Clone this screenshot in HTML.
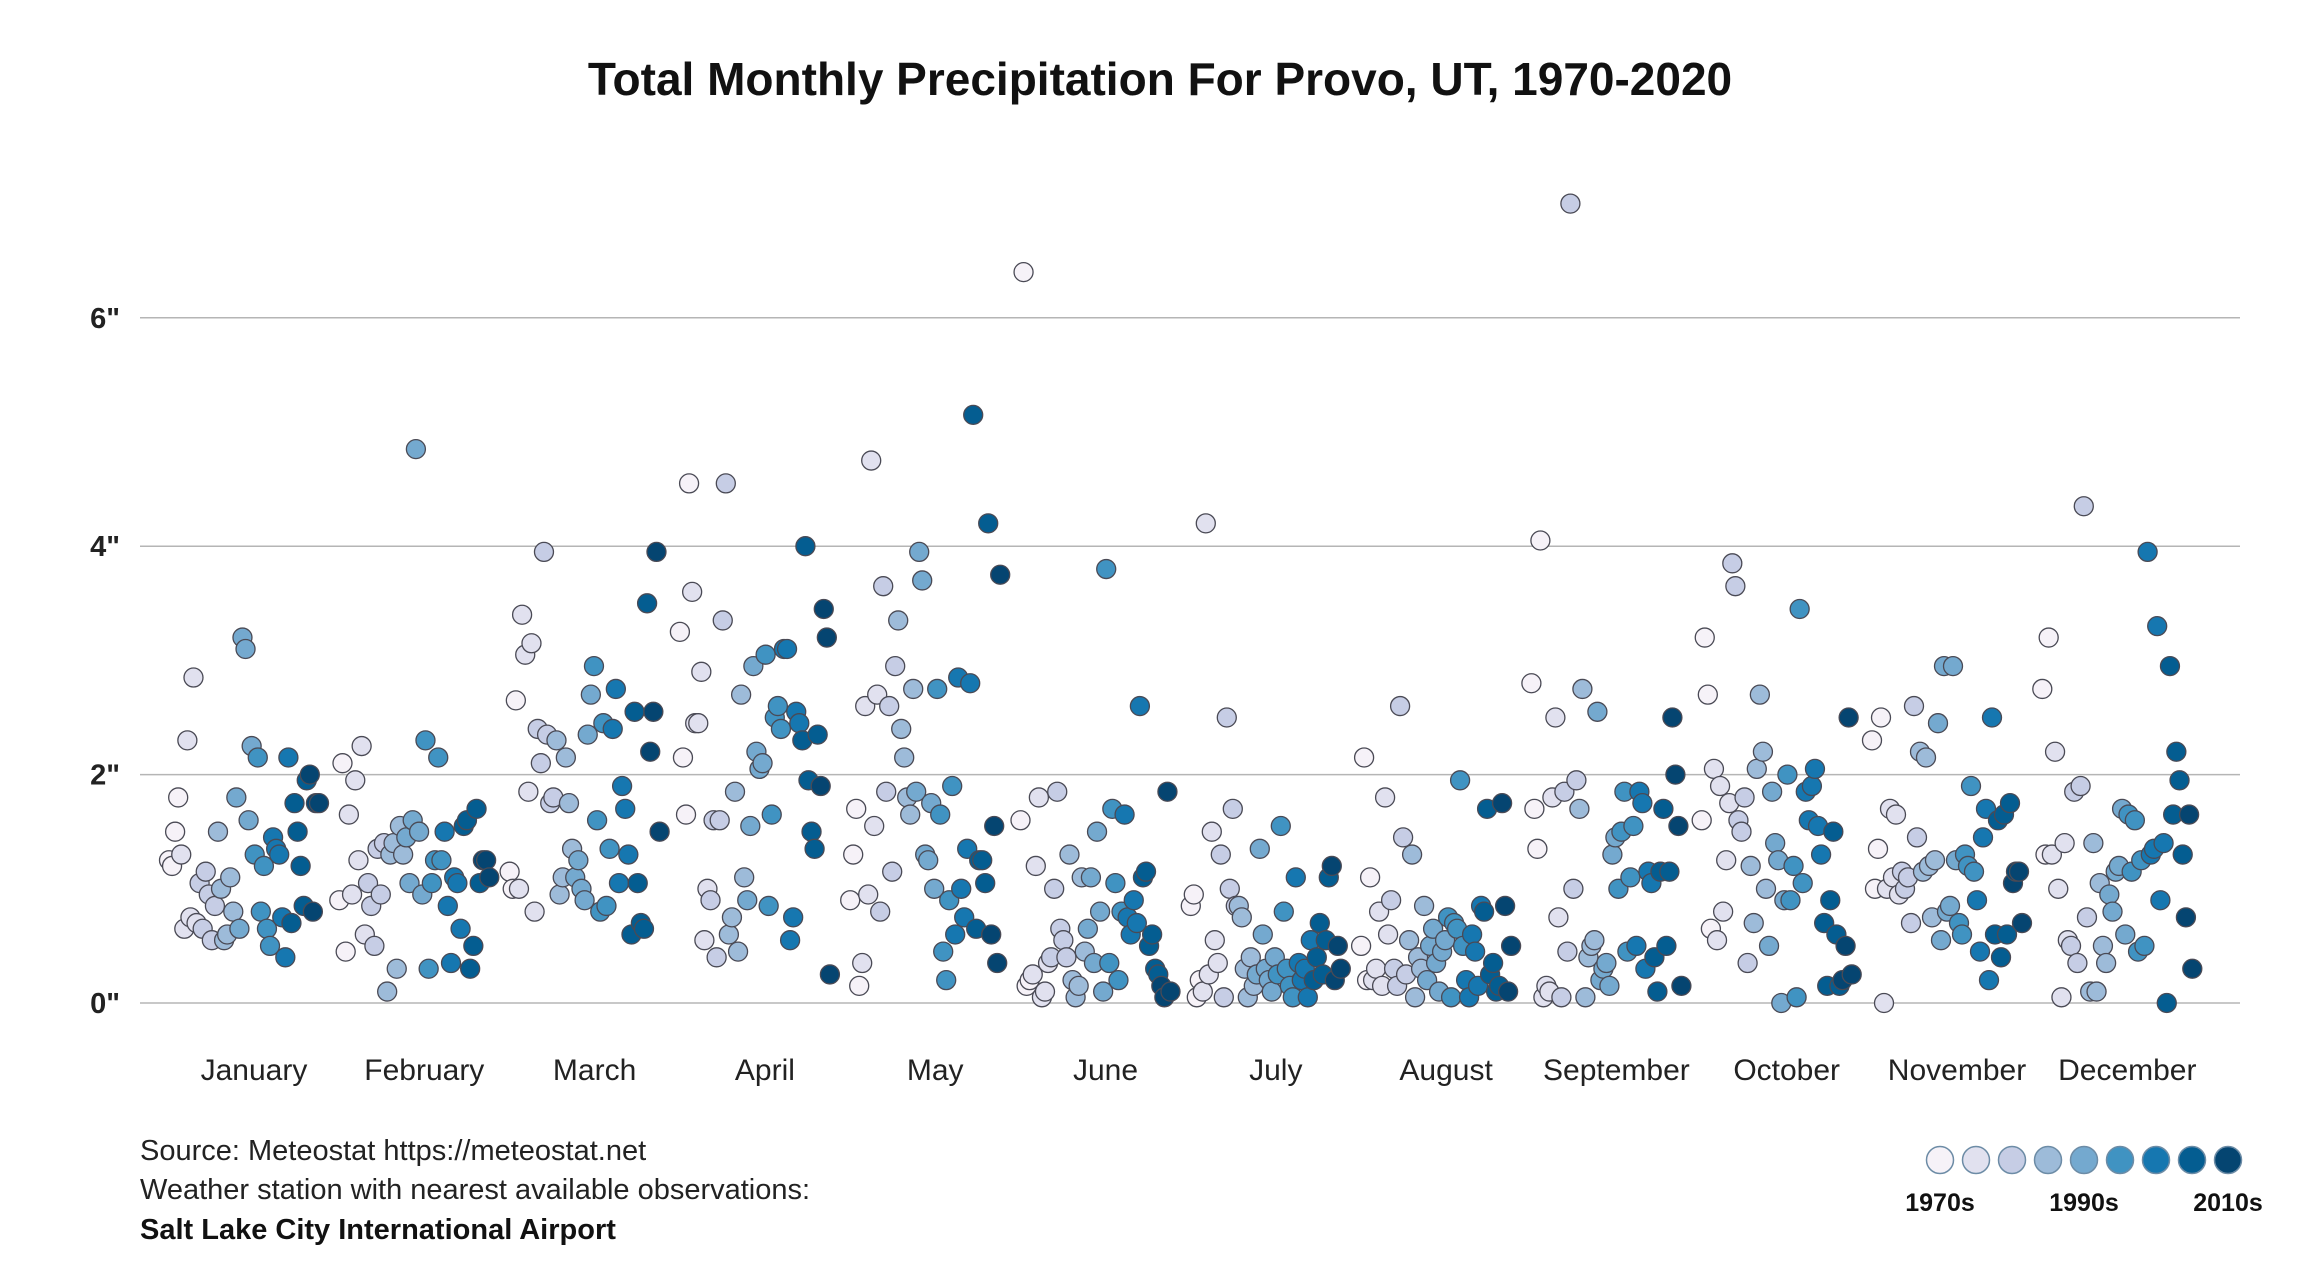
<!DOCTYPE html>
<html><head><meta charset="utf-8"><style>
body{margin:0;background:#fff;}
svg text{font-family:"Liberation Sans",sans-serif;}
</style></head><body>
<svg id="chart" width="2320" height="1280" viewBox="0 0 2320 1280" xmlns="http://www.w3.org/2000/svg">
<rect width="2320" height="1280" fill="#fff"/>
<text x="1160" y="95" text-anchor="middle" font-size="46" font-weight="bold" fill="#111">Total Monthly Precipitation For Provo, UT, 1970-2020</text>
<g id="grid"></g><g id="points"></g><g id="xlabels"></g>
<text x="140" y="1160" font-size="29" fill="#222">Source: Meteostat https://meteostat.net</text>
<text x="140" y="1199" font-size="29" fill="#222">Weather station with nearest available observations:</text>
<text x="140" y="1239" font-size="29" font-weight="bold" fill="#111">Salt Lake City International Airport</text>
<g id="legend"></g>
</svg>
<script>
const months=["January","February","March","April","May","June","July","August","September","October","November","December"];
const yTicks=[0,2,4,6];
const jan=[1.25,1.2,1.5,1.8,1.3,0.65,2.3,0.75,2.85,0.7,1.05,0.65,1.15,0.95,0.55,0.85,1.5,1.0,0.55,0.6,1.1,0.8,1.8,0.65,3.2,3.1,1.6,2.25,1.3,2.15,0.8,1.2,0.65,0.5,1.45,1.35,1.3,0.75,0.4,2.15,0.7,1.75,1.5,1.2,0.85,1.95,2.0,0.8,1.75,1.75];
const feb=[0.9,2.1,0.45,1.65,0.95,1.95,1.25,2.25,0.6,1.05,0.85,0.5,1.35,0.95,1.4,0.1,1.3,1.4,0.3,1.55,1.3,1.45,1.05,1.6,4.85,1.5,0.95,2.3,0.3,1.05,1.25,2.15,1.25,1.5,0.85,0.35,1.1,1.05,0.65,1.55,1.6,0.3,0.5,1.7,1.05,1.25,1.25,1.1];
const mar=[1.15,1.0,2.65,1.0,3.4,3.05,1.85,3.15,0.8,2.4,2.1,3.95,2.35,1.75,1.8,2.3,0.95,1.1,2.15,1.75,1.35,1.1,1.25,1.0,0.9,2.35,2.7,2.95,1.6,0.8,2.45,0.85,1.35,2.4,2.75,1.05,1.9,1.7,1.3,0.6,2.55,1.05,0.7,0.65,3.5,2.2,2.55,3.95,1.5];
const apr=[3.25,2.15,1.65,4.55,3.6,2.45,2.45,2.9,0.55,1.0,0.9,1.6,0.4,1.6,3.35,4.55,0.6,0.75,1.85,0.45,2.7,1.1,0.9,1.55,2.95,2.2,2.05,2.1,3.05,0.85,1.65,2.5,2.6,2.4,3.1,3.1,0.55,0.75,2.55,2.45,2.3,4.0,1.95,1.5,1.35,2.35,1.9,3.45,3.2,0.25];
const may=[0.9,1.3,1.7,0.15,0.35,2.6,0.95,4.75,1.55,2.7,0.8,3.65,1.85,2.6,1.15,2.95,3.35,2.4,2.15,1.8,1.65,2.75,1.85,3.95,3.7,1.3,1.25,1.75,1.0,2.75,1.65,0.45,0.2,0.9,1.9,0.6,2.85,1.0,0.75,1.35,2.8,5.15,0.65,1.25,1.25,1.05,4.2,0.6,1.55,0.35,3.75];
const jun=[1.6,6.4,0.15,0.2,0.25,1.2,1.8,0.05,0.1,0.35,0.4,1.0,1.85,0.65,0.55,0.4,1.3,0.2,0.05,0.15,1.1,0.45,0.65,1.1,0.35,1.5,0.8,0.1,3.8,0.35,1.7,1.05,0.2,0.8,1.65,0.75,0.6,0.9,0.7,2.6,1.1,1.15,0.5,0.6,0.3,0.25,0.15,0.05,1.85,0.1];
const jul=[0.85,0.95,0.05,0.2,0.1,4.2,0.25,1.5,0.55,0.35,1.3,0.05,2.5,1.0,1.7,0.85,0.85,0.75,0.3,0.05,0.4,0.15,0.25,1.35,0.6,0.3,0.2,0.1,0.4,0.25,1.55,0.8,0.3,0.15,0.05,1.1,0.35,0.2,0.3,0.05,0.55,0.2,0.4,0.7,0.25,0.55,1.1,1.2,0.2,0.5,0.3];
const aug=[0.5,2.15,0.2,1.1,0.2,0.3,0.8,0.15,1.8,0.6,0.9,0.3,0.15,2.6,1.45,0.25,0.55,1.3,0.05,0.4,0.3,0.85,0.2,0.5,0.65,0.35,0.1,0.45,0.55,0.75,0.05,0.7,0.65,1.95,0.5,0.2,0.05,0.6,0.45,0.15,0.85,0.8,1.7,0.25,0.35,0.1,0.15,1.75,0.85,0.1,0.5];
const sep=[2.8,1.7,1.35,4.05,0.05,0.15,0.1,1.8,2.5,0.75,0.05,1.85,0.45,7.0,1.0,1.95,1.7,2.75,0.05,0.4,0.5,0.55,2.55,0.2,0.3,0.35,0.15,1.3,1.45,1.0,1.5,1.85,0.45,1.1,1.55,0.5,1.85,1.75,0.3,1.15,1.05,0.4,0.1,1.15,1.7,0.5,1.15,2.5,2.0,1.55,0.15];
const oct=[1.6,3.2,2.7,0.65,2.05,0.55,1.9,0.8,1.25,1.75,3.85,3.65,1.6,1.5,1.8,0.35,1.2,0.7,2.05,2.7,2.2,1.0,0.5,1.85,1.4,1.25,0.0,0.9,2.0,0.9,1.2,0.05,3.45,1.05,1.85,1.6,1.9,2.05,1.55,1.3,0.7,0.15,0.9,1.5,0.6,0.15,0.2,0.5,2.5,0.25];
const nov=[2.3,1.0,1.35,2.5,0.0,1.0,1.7,1.1,1.65,0.95,1.15,1.0,1.1,0.7,2.6,1.45,2.2,1.15,2.15,1.2,0.75,1.25,2.45,0.55,2.95,0.8,0.85,2.95,1.25,0.7,0.6,1.3,1.2,1.9,1.15,0.9,0.45,1.45,1.7,0.2,2.5,0.6,1.6,0.4,1.65,0.6,1.75,1.05,1.15,1.15,0.7];
const dec=[2.75,1.3,3.2,1.3,2.2,1.0,0.05,1.4,0.55,0.5,1.85,0.35,1.9,4.35,0.75,0.1,1.4,0.1,1.05,0.5,0.35,0.95,0.8,1.15,1.2,1.7,0.6,1.65,1.15,1.6,0.45,1.25,0.5,3.95,1.3,1.35,3.3,0.9,1.4,0.0,2.95,1.65,2.2,1.95,1.3,0.75,1.65,0.3];
const series=[jan,feb,mar,apr,may,jun,jul,aug,sep,oct,nov,dec];
const legendLabels=["1970s","1990s","2010s"];
const palette=["#f6f2f8","#e1e1ef","#c6cde5","#9dbbd9","#74a9cf","#4093c2","#1677b0","#045d91","#054571"];
const NS="http://www.w3.org/2000/svg";
const y=v=>1003-v*114.2;
const xc=m=>254+m*170.3;
function mk(tag,attrs,parent){const e=document.createElementNS(NS,tag);for(const k in attrs)e.setAttribute(k,attrs[k]);parent.appendChild(e);return e;}
const grid=document.getElementById('grid');
yTicks.forEach(t=>{
  const l=mk('line',{x1:140,x2:2240,y1:y(t),y2:y(t),stroke:'#b5b5b5','stroke-width':1.5},grid);
  
  
  const tx=mk('text',{x:120,y:y(t)+10,'text-anchor':'end','font-size':29,'font-weight':'bold',fill:'#222'},grid);
  tx.textContent=t+'"';
  
  
});
const xl=document.getElementById('xlabels');
months.forEach((m,i)=>{
  const t=mk('text',{x:xc(i),y:1080,'text-anchor':'middle','font-size':30,fill:'#222'},xl);
  t.textContent=m;
  
  
});
function col(t){const p=t*(palette.length-1);const i=Math.min(palette.length-1,Math.round(p));return palette[i];}
const pg=document.getElementById('points');
series.forEach((arr,m)=>{
  const n=arr.length;
  arr.forEach((v,i)=>{
    const f=i/(n-1);
    const c=mk('circle',{cx:xc(m)-10+(f-0.5)*150,cy:y(v),r:9.5,fill:col(f),stroke:'#4a4a55','stroke-width':1.3},pg);
    
    
  });
});
const lg=document.getElementById('legend');
palette.forEach((p,i)=>{
  const c=mk('circle',{cx:1940+i*36,cy:1160,r:13.5,fill:p,stroke:'#6d8ca6','stroke-width':1.5},lg);
  
  
});
legendLabels.forEach((s,i)=>{
  const t=mk('text',{x:1940+i*144,y:1211,'text-anchor':'middle','font-size':25,'font-weight':'bold',fill:'#111'},lg);
  t.textContent=s;
  
  
});
</script>
</body></html>
